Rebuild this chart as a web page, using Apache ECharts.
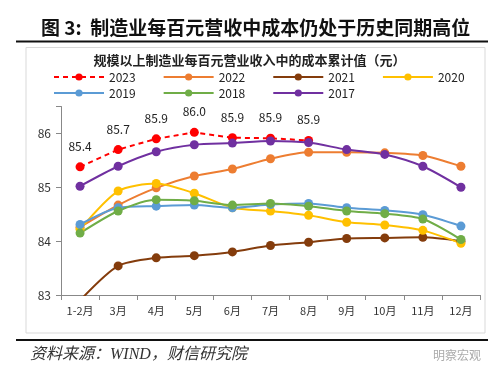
<!DOCTYPE html>
<html>
<head>
<meta charset="utf-8">
<script src="https://cdn.jsdelivr.net/npm/echarts@6/dist/echarts.min.js"></script>
<style>
  html, body { margin: 0; padding: 0; background: #fff; }
  #chart { width: 499px; height: 377px; }
</style>
</head>
<body>
<div id="chart"></div>
<script>
// months on the x axis
var months = ['1-2月', '3月', '4月', '5月', '6月', '7月', '8月', '9月', '10月', '11月', '12月'];

// cost per 100 yuan revenue
var y2023 = [85.38, 85.70, 85.90, 86.02, 85.92, 85.91, 85.87];
var y2022 = [84.26, 84.67, 84.99, 85.21, 85.34, 85.53, 85.65, 85.65, 85.64, 85.59, 85.39];
var y2021 = [82.90, 83.54, 83.69, 83.73, 83.80, 83.92, 83.98, 84.05, 84.06, 84.07, 84.00];
var y2020 = [84.22, 84.93, 85.07, 84.89, 84.62, 84.56, 84.48, 84.35, 84.30, 84.20, 83.96];
var y2019 = [84.31, 84.62, 84.65, 84.67, 84.62, 84.68, 84.70, 84.62, 84.57, 84.49, 84.28];
var y2018 = [84.15, 84.56, 84.77, 84.75, 84.67, 84.70, 84.65, 84.56, 84.51, 84.41, 84.03];
var y2017 = [85.02, 85.39, 85.66, 85.79, 85.82, 85.86, 85.83, 85.70, 85.61, 85.39, 85.00];

var yTicks = [83, 84, 85, 86];

var font = '"Noto Sans CJK SC", "Noto Sans", sans-serif';

var mkLine = function(name, data, color, extra) {
    var s = {
        name: name,
        type: 'line',
        data: data,
        smooth: 0.25,
        symbol: 'circle',
        symbolSize: 9,
        clip: true,
        itemStyle: { color: color },
        lineStyle: { color: color, width: 2 },
        z: 2
    };
    if (extra) Object.assign(s, extra);
    return s;
};

var series = [
    mkLine('2022', y2022, '#ED7D31'),
    mkLine('2021', y2021, '#843C0C'),
    mkLine('2020', y2020, '#FFC000'),
    mkLine('2019', y2019, '#5B9BD5'),
    mkLine('2018', y2018, '#70AD47'),
    mkLine('2017', y2017, '#7030A0'),
    mkLine('2023', y2023, '#FF0000', {
        smooth: false,
        z: 1,
        lineStyle: { color: '#FF0000', width: 2, type: [5, 4] },
        label: {
            show: true,
            position: 'top',
            distance: 10,
            color: '#222',
            fontSize: 12,
            fontFamily: font,
            formatter: function(p) { return p.value.toFixed(1); }
        }
    })
];

var legendBase = {
    orient: 'horizontal',
    itemWidth: 50,
    itemHeight: 9,
    itemGap: 27,
    textStyle: { color: '#222', fontSize: 12, fontFamily: font },
    selectedMode: false
};

var option = {
    animation: false,
    backgroundColor: '#fff',
    title: [{
        text: '图 3:  制造业每百元营收中成本仍处于历史同期高位',
        left: 36,
        top: 13,
        textStyle: { fontSize: 19, fontWeight: 'bold', color: '#111', fontFamily: font }
    }, {
        text: '规模以上制造业每百元营业收入中的成本累计值（元）',
        left: 'center',
        top: 49,
        textStyle: { fontSize: 13, fontWeight: 'bold', color: '#222', fontFamily: font }
    }],
    legend: [
        Object.assign({}, legendBase, { left: 48, top: 66, data: ['2023', '2022', '2021', '2020'] }),
        Object.assign({}, legendBase, { left: 48, top: 82, data: ['2019', '2018', '2017'] })
    ],
    grid: { left: 61, right: 19, top: 106.5, bottom: 82, containLabel: false },
    xAxis: {
        type: 'category',
        data: months,
        boundaryGap: true,
        axisLine: { lineStyle: { color: '#888', width: 1 } },
        axisTick: { show: true, alignWithLabel: false, length: 5, lineStyle: { color: '#888' } },
        axisLabel: { color: '#333', fontSize: 11, margin: 10, fontFamily: font, interval: 0 }
    },
    yAxis: {
        type: 'value',
        min: 83,
        max: 86.5,
        interval: 1,
        splitLine: { show: false },
        axisLine: { show: true, lineStyle: { color: '#888', width: 1 } },
        axisTick: { show: true, length: 5, lineStyle: { color: '#888' } },
        axisLabel: {
            color: '#333',
            fontSize: 12,
            margin: 10,
            fontFamily: font,
            formatter: function(v) { return yTicks.indexOf(v) >= 0 ? String(v) : ''; }
        }
    },
    graphic: [
        { type: 'rect', shape: { x: 26, y: 47.5, width: 459, height: 285.5 },
          style: { fill: 'none', stroke: '#d9d9d9', lineWidth: 1 }, z: -1 },
        { type: 'rect', shape: { x: 16, y: 40.5, width: 472, height: 2 },
          style: { fill: '#111' } },
        { type: 'rect', shape: { x: 16, y: 339, width: 472, height: 2 },
          style: { fill: '#111' } },
        { type: 'text', left: 30, top: 347,
          style: { text: '资料来源：WIND，财信研究院', fill: '#333', fontSize: 16,
                   fontStyle: 'italic', fontFamily: '"Liberation Serif", "Noto Sans CJK SC", serif' } },
        { type: 'text', left: 433, top: 349,
          style: { text: '明察宏观', fill: '#aaa', fontSize: 12, fontFamily: font } }
    ],
    series: series
};

var myChart = echarts.init(document.getElementById('chart'));
myChart.setOption(option);
</script>
</body>
</html>
